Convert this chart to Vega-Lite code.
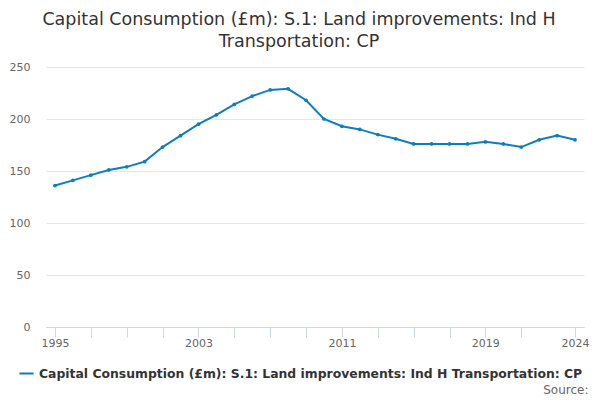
{
  "$schema": "https://vega.github.io/schema/vega-lite/v6.json",
  "width": 538,
  "height": 260,
  "autosize": {"type": "none"},
  "padding": {"left": 46, "top": 67, "right": 16, "bottom": 73},
  "title": {
    "text": ["Capital Consumption (£m): S.1: Land improvements: Ind H", "Transportation: CP"],
    "anchor": "middle",
    "frame": "bounds",
    "fontSize": 17.5,
    "fontWeight": "normal",
    "color": "#333333",
    "font": "DejaVu Sans",
    "lineHeight": 22,
    "offset": 11
  },
  "data": {
    "values": [
      {"year": 1995, "value": 136, "series": "Capital Consumption (£m): S.1: Land improvements: Ind H Transportation: CP"},
      {"year": 1996, "value": 141, "series": "Capital Consumption (£m): S.1: Land improvements: Ind H Transportation: CP"},
      {"year": 1997, "value": 146, "series": "Capital Consumption (£m): S.1: Land improvements: Ind H Transportation: CP"},
      {"year": 1998, "value": 151, "series": "Capital Consumption (£m): S.1: Land improvements: Ind H Transportation: CP"},
      {"year": 1999, "value": 154, "series": "Capital Consumption (£m): S.1: Land improvements: Ind H Transportation: CP"},
      {"year": 2000, "value": 159, "series": "Capital Consumption (£m): S.1: Land improvements: Ind H Transportation: CP"},
      {"year": 2001, "value": 173, "series": "Capital Consumption (£m): S.1: Land improvements: Ind H Transportation: CP"},
      {"year": 2002, "value": 184, "series": "Capital Consumption (£m): S.1: Land improvements: Ind H Transportation: CP"},
      {"year": 2003, "value": 195, "series": "Capital Consumption (£m): S.1: Land improvements: Ind H Transportation: CP"},
      {"year": 2004, "value": 204, "series": "Capital Consumption (£m): S.1: Land improvements: Ind H Transportation: CP"},
      {"year": 2005, "value": 214, "series": "Capital Consumption (£m): S.1: Land improvements: Ind H Transportation: CP"},
      {"year": 2006, "value": 222, "series": "Capital Consumption (£m): S.1: Land improvements: Ind H Transportation: CP"},
      {"year": 2007, "value": 228, "series": "Capital Consumption (£m): S.1: Land improvements: Ind H Transportation: CP"},
      {"year": 2008, "value": 229, "series": "Capital Consumption (£m): S.1: Land improvements: Ind H Transportation: CP"},
      {"year": 2009, "value": 218, "series": "Capital Consumption (£m): S.1: Land improvements: Ind H Transportation: CP"},
      {"year": 2010, "value": 200, "series": "Capital Consumption (£m): S.1: Land improvements: Ind H Transportation: CP"},
      {"year": 2011, "value": 193, "series": "Capital Consumption (£m): S.1: Land improvements: Ind H Transportation: CP"},
      {"year": 2012, "value": 190, "series": "Capital Consumption (£m): S.1: Land improvements: Ind H Transportation: CP"},
      {"year": 2013, "value": 185, "series": "Capital Consumption (£m): S.1: Land improvements: Ind H Transportation: CP"},
      {"year": 2014, "value": 181, "series": "Capital Consumption (£m): S.1: Land improvements: Ind H Transportation: CP"},
      {"year": 2015, "value": 176, "series": "Capital Consumption (£m): S.1: Land improvements: Ind H Transportation: CP"},
      {"year": 2016, "value": 176, "series": "Capital Consumption (£m): S.1: Land improvements: Ind H Transportation: CP"},
      {"year": 2017, "value": 176, "series": "Capital Consumption (£m): S.1: Land improvements: Ind H Transportation: CP"},
      {"year": 2018, "value": 176, "series": "Capital Consumption (£m): S.1: Land improvements: Ind H Transportation: CP"},
      {"year": 2019, "value": 178, "series": "Capital Consumption (£m): S.1: Land improvements: Ind H Transportation: CP"},
      {"year": 2020, "value": 176, "series": "Capital Consumption (£m): S.1: Land improvements: Ind H Transportation: CP"},
      {"year": 2021, "value": 173, "series": "Capital Consumption (£m): S.1: Land improvements: Ind H Transportation: CP"},
      {"year": 2022, "value": 180, "series": "Capital Consumption (£m): S.1: Land improvements: Ind H Transportation: CP"},
      {"year": 2023, "value": 184, "series": "Capital Consumption (£m): S.1: Land improvements: Ind H Transportation: CP"},
      {"year": 2024, "value": 180, "series": "Capital Consumption (£m): S.1: Land improvements: Ind H Transportation: CP"}
    ]
  },
  "mark": {"type": "line", "strokeWidth": 2, "point": {"size": 14, "filled": true}},
  "encoding": {
    "x": {
      "field": "year",
      "type": "quantitative",
      "scale": {"domain": [1994.5, 2024.5], "nice": false, "zero": false},
      "axis": {
        "title": "Source:",
        "titleAnchor": "end",
        "titleAlign": "right",
        "titleX": 542,
        "titleY": 57,
        "titleFontSize": 12,
        "titleFontWeight": "normal",
        "titleColor": "#666666",
        "values": [1995, 1997, 1999, 2001, 2003, 2005, 2007, 2009, 2011, 2013, 2015, 2017, 2019, 2021, 2024],
        "labelExpr": "indexof([1995, 2003, 2011, 2019, 2024], datum.value) >= 0 ? datum.value : ''",
        "format": "d",
        "grid": false,
        "domainColor": "#ccd6eb",
        "tickColor": "#ccd6eb",
        "tickSize": 10,
        "labelFontSize": 11,
        "labelColor": "#666666",
        "labelPadding": 0,
        "labelFlush": false,
        "labelOverlap": false
      }
    },
    "y": {
      "field": "value",
      "type": "quantitative",
      "scale": {"domain": [0, 250], "nice": false},
      "axis": {
        "title": null,
        "values": [0, 50, 100, 150, 200, 250],
        "domain": false,
        "ticks": false,
        "gridColor": "#e6e6e6",
        "labelFontSize": 11,
        "labelColor": "#666666",
        "labelPadding": 16
      }
    },
    "color": {
      "field": "series",
      "type": "nominal",
      "scale": {"range": ["#0f7cc0"]},
      "legend": {
        "title": null,
        "orient": "none",
        "legendX": -28,
        "legendY": 298,
        "symbolType": "stroke",
        "symbolStrokeWidth": 2,
        "symbolSize": 200,
        "labelFontSize": 12.4,
        "labelFontWeight": "bold",
        "labelColor": "#333333",
        "labelLimit": 600
      }
    }
  },
  "config": {
    "font": "DejaVu Sans",
    "view": {"stroke": null}
  }
}
